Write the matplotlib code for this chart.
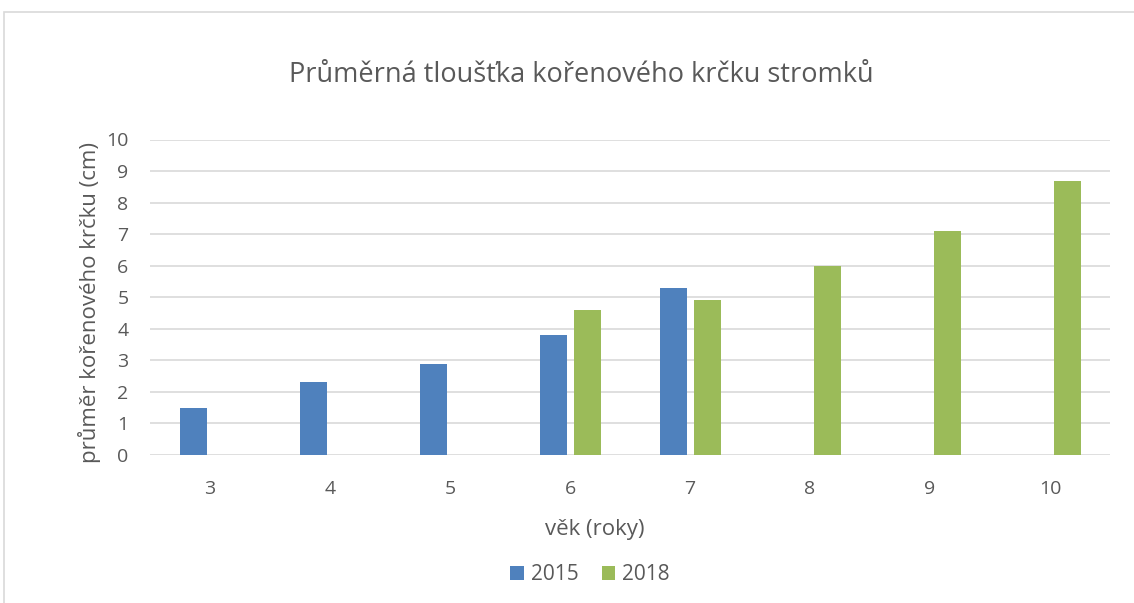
import numpy as np
import matplotlib
matplotlib.use("Agg")
import matplotlib.pyplot as plt
from matplotlib.patches import Rectangle

ages = ["3", "4", "5", "6", "7", "8", "9", "10"]
v2015 = [1.5, 2.3, 2.9, 3.8, 5.3, np.nan, np.nan, np.nan]
v2018 = [np.nan, np.nan, np.nan, 4.6, 4.9, 6.0, 7.1, 8.7]
series_names = ["2015", "2018"]
yticks = list(range(0, 11))

title = "Průměrná tloušťka kořenového krčku stromků"
xlabel = "věk (roky)"
ylabel = "průměr kořenového krčku (cm)"

BLUE = "#4F81BD"
GREEN = "#9BBB59"
TXT = "#595959"
GRID = "#D9D9D9"
FONT = ["Open Sans", "DejaVu Sans"]

W, H = 1134, 603
fig = plt.figure(figsize=(W / 100, H / 100), dpi=100)
fig.patch.set_facecolor("white")

# chart border
fig.patches.append(Rectangle((4 / W, -0.1), 1.2, (H - 12) / H + 0.1,
                             transform=fig.transFigure, fill=False,
                             edgecolor="#D9D9D9", linewidth=1.2))

ax = fig.add_axes([150 / W, (H - 455) / H, 960 / W, (455 - 139.5) / H])
x = np.arange(len(ages))
bw = 0.225
ax.bar(x - 0.1375, v2015, width=bw, color=BLUE, label=series_names[0], zorder=3)
ax.bar(x + 0.1458, v2018, width=bw, color=GREEN, label=series_names[1], zorder=3)

ax.set_xlim(-0.5, len(ages) - 0.5)
ax.set_ylim(0, 10)
ax.set_yticks(yticks)
ax.set_xticks(x)
ax.set_xticklabels(ages)
for s in ax.spines.values():
    s.set_visible(False)
ax.grid(axis="y", color=GRID, linewidth=1.2, zorder=0)
ax.set_axisbelow(True)
ax.tick_params(axis="both", length=0, colors=TXT, labelsize=14)
ax.tick_params(axis="x", pad=18)
ax.tick_params(axis="y", pad=15.5)
for lab in ax.get_xticklabels() + ax.get_yticklabels():
    lab.set_family(FONT)

fig.text(581 / W, 1 - 75 / H, title, ha="center", va="center",
         fontsize=19.5, color=TXT, family=FONT)
fig.text(595 / W, 1 - 530 / H, xlabel, ha="center", va="center",
         fontsize=16, color=TXT, family=FONT)
fig.text(90 / W, 1 - 302 / H, ylabel, ha="center", va="center", rotation=90,
         fontsize=16, color=TXT, family=FONT)

leg = fig.legend(loc="center", bbox_to_anchor=(590 / W, 1 - 575 / H), ncol=2,
                 frameon=False, handlelength=0.65,
                 handleheight=0.65, handletextpad=0.35, columnspacing=1.1,
                 prop={"family": FONT, "size": 15})
for t in leg.get_texts():
    t.set_color(TXT)

fig.savefig("out.png", dpi=100, facecolor="white")
